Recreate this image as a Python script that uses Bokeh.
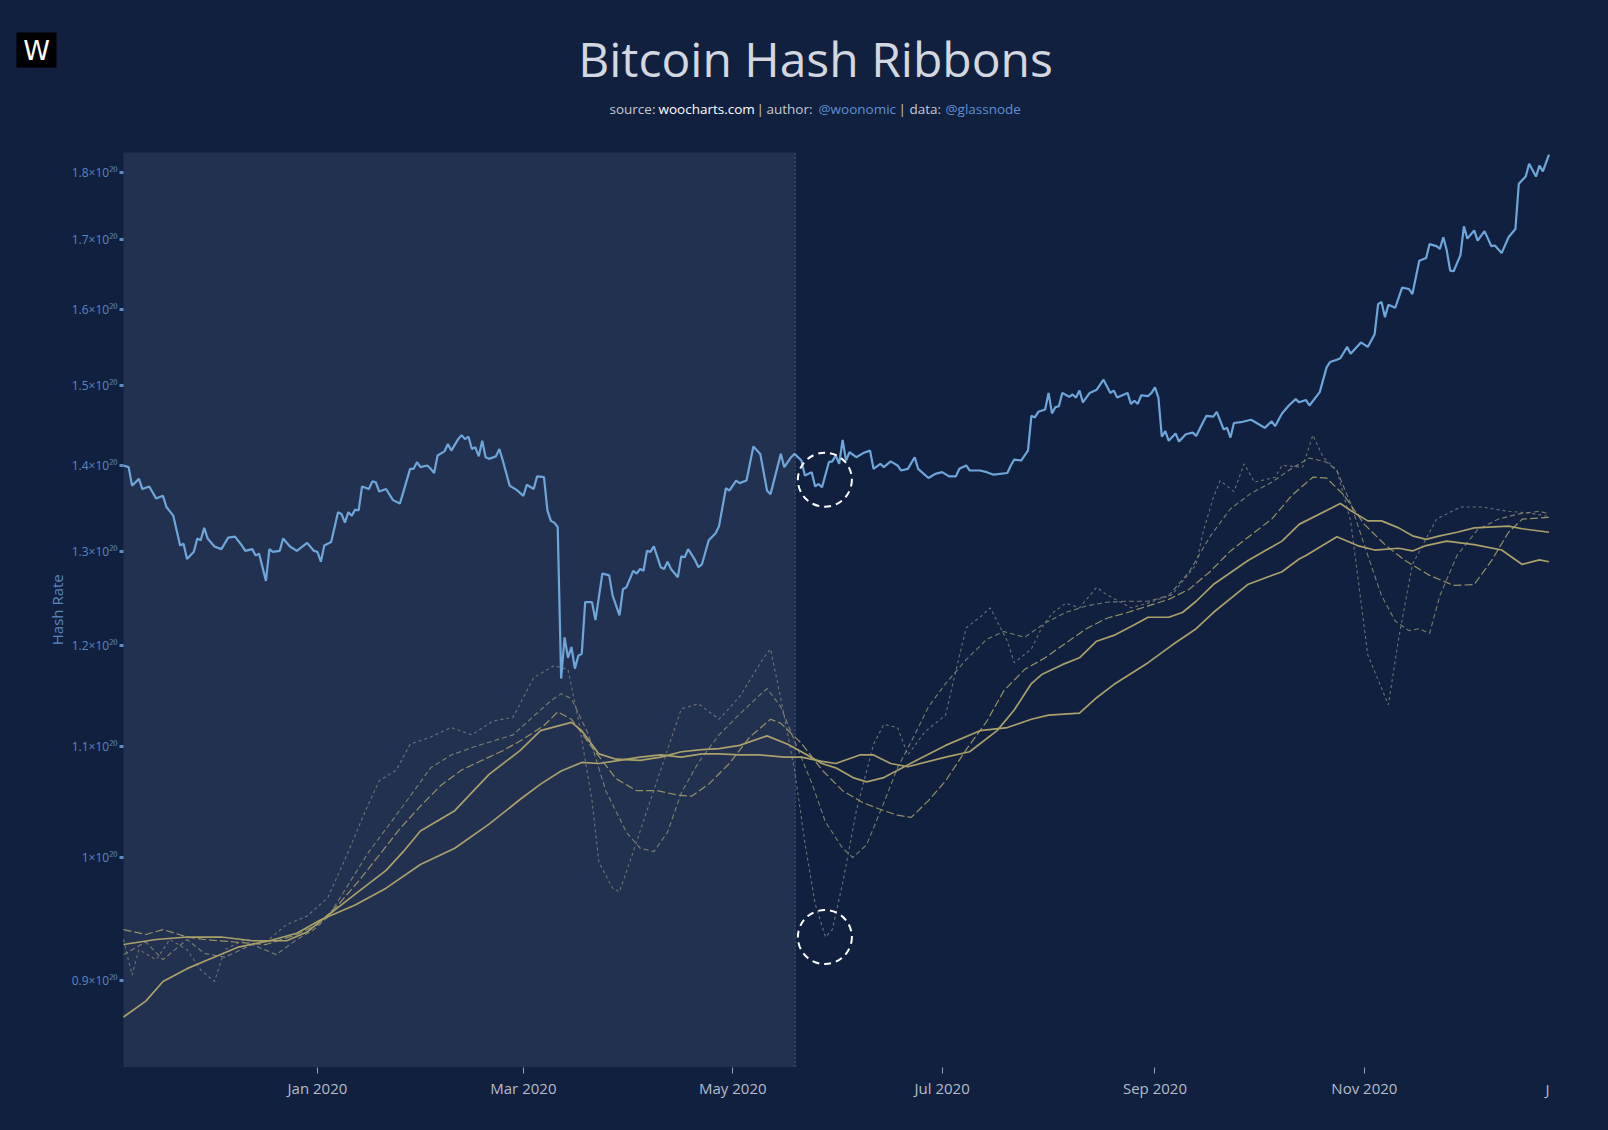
import math
import pandas as pd
from bokeh.plotting import figure
from bokeh.models import (Range1d, FixedTicker, CustomJSTickFormatter,
                          BoxAnnotation, Label, ColumnDataSource)
from bokeh.embed import file_html
from bokeh.resources import INLINE

# ---------------- data (hash rate, units of 1e20) ----------------
hash_dates = [
    "2019-11-05 12:00", "2019-11-07", "2019-11-08", "2019-11-10", "2019-11-11", "2019-11-13", "2019-11-15", "2019-11-17",
    "2019-11-18", "2019-11-20", "2019-11-22", "2019-11-23", "2019-11-24", "2019-11-26", "2019-11-27", "2019-11-28",
    "2019-11-29", "2019-11-30", "2019-12-02", "2019-12-04", "2019-12-06", "2019-12-08", "2019-12-10", "2019-12-11",
    "2019-12-13", "2019-12-14", "2019-12-15", "2019-12-17", "2019-12-18", "2019-12-19", "2019-12-21", "2019-12-22",
    "2019-12-24", "2019-12-26", "2019-12-29", "2019-12-31", "2020-01-01", "2020-01-02", "2020-01-03", "2020-01-05",
    "2020-01-07", "2020-01-08", "2020-01-09", "2020-01-10", "2020-01-11", "2020-01-12", "2020-01-13", "2020-01-14",
    "2020-01-16", "2020-01-17", "2020-01-18", "2020-01-19", "2020-01-21", "2020-01-23", "2020-01-25", "2020-01-26",
    "2020-01-28", "2020-01-29", "2020-01-30", "2020-01-31", "2020-02-02", "2020-02-03", "2020-02-04", "2020-02-05",
    "2020-02-07", "2020-02-08", "2020-02-09", "2020-02-11", "2020-02-12", "2020-02-13", "2020-02-14", "2020-02-15",
    "2020-02-16", "2020-02-17", "2020-02-18", "2020-02-19", "2020-02-20", "2020-02-22", "2020-02-23", "2020-02-24",
    "2020-02-26", "2020-02-28", "2020-03-01", "2020-03-02", "2020-03-04", "2020-03-05", "2020-03-07", "2020-03-08",
    "2020-03-09", "2020-03-10", "2020-03-11", "2020-03-12", "2020-03-13", "2020-03-14", "2020-03-15", "2020-03-16",
    "2020-03-17", "2020-03-18", "2020-03-19", "2020-03-21", "2020-03-22", "2020-03-24", "2020-03-26", "2020-03-27",
    "2020-03-29", "2020-03-30", "2020-03-31", "2020-04-02", "2020-04-03", "2020-04-04", "2020-04-05", "2020-04-06",
    "2020-04-07", "2020-04-08", "2020-04-10", "2020-04-11", "2020-04-12", "2020-04-13", "2020-04-15", "2020-04-16",
    "2020-04-17", "2020-04-18", "2020-04-20", "2020-04-21", "2020-04-22", "2020-04-24", "2020-04-26", "2020-04-27",
    "2020-04-29", "2020-04-30", "2020-05-02", "2020-05-03", "2020-05-05", "2020-05-07", "2020-05-09", "2020-05-11",
    "2020-05-12", "2020-05-14", "2020-05-15", "2020-05-16", "2020-05-18", "2020-05-19", "2020-05-21", "2020-05-22",
    "2020-05-24", "2020-05-25", "2020-05-26", "2020-05-27", "2020-05-29", "2020-05-30", "2020-05-31", "2020-06-01",
    "2020-06-02", "2020-06-03", "2020-06-04", "2020-06-06", "2020-06-08", "2020-06-10", "2020-06-11", "2020-06-13",
    "2020-06-14", "2020-06-16", "2020-06-18", "2020-06-19", "2020-06-21", "2020-06-23", "2020-06-24", "2020-06-27",
    "2020-06-29", "2020-07-01", "2020-07-03", "2020-07-05", "2020-07-06", "2020-07-08", "2020-07-09", "2020-07-12",
    "2020-07-14", "2020-07-16", "2020-07-20", "2020-07-21", "2020-07-22", "2020-07-24", "2020-07-26", "2020-07-27",
    "2020-07-28", "2020-07-29", "2020-07-31", "2020-08-01", "2020-08-02", "2020-08-03", "2020-08-04", "2020-08-05",
    "2020-08-07", "2020-08-08", "2020-08-09", "2020-08-10", "2020-08-11", "2020-08-13", "2020-08-15", "2020-08-17",
    "2020-08-19", "2020-08-20", "2020-08-21", "2020-08-24", "2020-08-25", "2020-08-26", "2020-08-27", "2020-08-28",
    "2020-08-30", "2020-08-31", "2020-09-01", "2020-09-02", "2020-09-03", "2020-09-04", "2020-09-05", "2020-09-07",
    "2020-09-08", "2020-09-10", "2020-09-12", "2020-09-13", "2020-09-15", "2020-09-16", "2020-09-18", "2020-09-19",
    "2020-09-20", "2020-09-21", "2020-09-22", "2020-09-23", "2020-09-24", "2020-09-26", "2020-09-29", "2020-10-01",
    "2020-10-03", "2020-10-05", "2020-10-06", "2020-10-08", "2020-10-10", "2020-10-12", "2020-10-13", "2020-10-15",
    "2020-10-16", "2020-10-19", "2020-10-21", "2020-10-22", "2020-10-24", "2020-10-25", "2020-10-27", "2020-10-28",
    "2020-10-31", "2020-11-02", "2020-11-04", "2020-11-05", "2020-11-06", "2020-11-07", "2020-11-08", "2020-11-10",
    "2020-11-12", "2020-11-14", "2020-11-15", "2020-11-17", "2020-11-19", "2020-11-20", "2020-11-22", "2020-11-23",
    "2020-11-24", "2020-11-25", "2020-11-26", "2020-11-27", "2020-11-29", "2020-11-30", "2020-12-01", "2020-12-03",
    "2020-12-04", "2020-12-06", "2020-12-07", "2020-12-08", "2020-12-09", "2020-12-11", "2020-12-13", "2020-12-15",
    "2020-12-16", "2020-12-18", "2020-12-19", "2020-12-21", "2020-12-22", "2020-12-23", "2020-12-24 19:00",
]
hash_values = [
    1.400, 1.398, 1.376, 1.384, 1.372, 1.375, 1.361, 1.364,
    1.351, 1.341, 1.307, 1.309, 1.292, 1.300, 1.315, 1.313,
    1.327, 1.315, 1.306, 1.303, 1.316, 1.317, 1.307, 1.301,
    1.303, 1.296, 1.298, 1.268, 1.303, 1.300, 1.301, 1.315,
    1.306, 1.301, 1.310, 1.301, 1.300, 1.289, 1.307, 1.311,
    1.345, 1.343, 1.333, 1.345, 1.341, 1.348, 1.347, 1.375,
    1.372, 1.381, 1.380, 1.369, 1.372, 1.359, 1.355, 1.368,
    1.396, 1.396, 1.404, 1.398, 1.400, 1.396, 1.391, 1.412,
    1.417, 1.426, 1.418, 1.432, 1.437, 1.432, 1.435, 1.420,
    1.422, 1.411, 1.430, 1.410, 1.408, 1.411, 1.420, 1.406,
    1.376, 1.371, 1.364, 1.377, 1.372, 1.387, 1.386, 1.347,
    1.335, 1.333, 1.328, 1.166, 1.208, 1.187, 1.198, 1.176,
    1.189, 1.191, 1.245, 1.245, 1.226, 1.276, 1.274, 1.252,
    1.231, 1.259, 1.261, 1.279, 1.276, 1.281, 1.279, 1.301,
    1.300, 1.306, 1.283, 1.281, 1.289, 1.281, 1.272, 1.295,
    1.294, 1.303, 1.291, 1.283, 1.286, 1.313, 1.321, 1.329,
    1.373, 1.370, 1.382, 1.379, 1.382, 1.423, 1.414, 1.370,
    1.366, 1.398, 1.414, 1.398, 1.410, 1.414, 1.406, 1.388,
    1.392, 1.375, 1.378, 1.374, 1.404, 1.405, 1.412, 1.402,
    1.431, 1.406, 1.416, 1.410, 1.415, 1.418, 1.396, 1.402,
    1.398, 1.405, 1.400, 1.394, 1.396, 1.410, 1.396, 1.385,
    1.390, 1.392, 1.387, 1.387, 1.396, 1.400, 1.394, 1.394,
    1.392, 1.389, 1.391, 1.400, 1.407, 1.406, 1.418, 1.461,
    1.459, 1.466, 1.469, 1.490, 1.464, 1.472, 1.473, 1.490,
    1.485, 1.488, 1.484, 1.493, 1.478, 1.490, 1.494, 1.507,
    1.490, 1.493, 1.484, 1.490, 1.476, 1.480, 1.476, 1.487,
    1.486, 1.490, 1.497, 1.484, 1.435, 1.442, 1.430, 1.439,
    1.429, 1.438, 1.440, 1.436, 1.453, 1.461, 1.460, 1.466,
    1.455, 1.444, 1.446, 1.434, 1.452, 1.453, 1.456, 1.451,
    1.446, 1.454, 1.448, 1.464, 1.474, 1.482, 1.478, 1.481,
    1.474, 1.491, 1.523, 1.530, 1.533, 1.535, 1.550, 1.541,
    1.556, 1.550, 1.567, 1.608, 1.611, 1.590, 1.607, 1.603,
    1.631, 1.629, 1.622, 1.669, 1.673, 1.693, 1.690, 1.686,
    1.703, 1.684, 1.655, 1.654, 1.677, 1.719, 1.701, 1.713,
    1.698, 1.712, 1.701, 1.690, 1.691, 1.680, 1.703, 1.715,
    1.783, 1.794, 1.814, 1.794, 1.811, 1.802, 1.828,
]

# ---------------- ribbon moving averages (read against the left scale) ----------------
ma_a_dates = [
    "2019-11-05 12:00", "2019-11-12", "2019-11-17", "2019-11-24", "2019-12-01", "2019-12-09", "2019-12-18", "2019-12-26",
    "2020-01-02", "2020-01-12", "2020-01-21", "2020-01-31", "2020-02-10", "2020-02-20", "2020-02-29", "2020-03-06",
    "2020-03-12", "2020-03-18", "2020-03-23", "2020-03-29", "2020-04-04", "2020-04-10", "2020-04-16", "2020-04-22",
    "2020-04-27", "2020-05-03", "2020-05-09", "2020-05-16", "2020-05-21", "2020-05-27", "2020-05-31", "2020-06-07",
    "2020-06-11", "2020-06-16", "2020-06-21", "2020-07-02", "2020-07-09", "2020-07-17", "2020-07-22", "2020-07-27",
    "2020-07-30", "2020-08-05", "2020-08-10", "2020-08-15", "2020-08-20", "2020-08-26", "2020-08-30", "2020-09-05",
    "2020-09-09", "2020-09-13", "2020-09-18", "2020-09-28", "2020-10-08", "2020-10-13", "2020-10-15", "2020-10-25",
    "2020-10-28", "2020-11-02", "2020-11-06", "2020-11-11", "2020-11-15", "2020-11-19", "2020-11-23", "2020-11-28",
    "2020-12-03", "2020-12-13", "2020-12-17", "2020-12-24 19:00",
]
ma_a_values = [
    0.872, 0.884, 0.899, 0.909, 0.917, 0.926, 0.931, 0.937,
    0.948, 0.960, 0.974, 0.994, 1.008, 1.029, 1.051, 1.065,
    1.077, 1.085, 1.084, 1.087, 1.090, 1.092, 1.090, 1.093,
    1.093, 1.092, 1.092, 1.090, 1.090, 1.086, 1.084, 1.092,
    1.092, 1.084, 1.081, 1.090, 1.095, 1.115, 1.135, 1.161,
    1.170, 1.180, 1.187, 1.204, 1.210, 1.221, 1.229, 1.229,
    1.234, 1.246, 1.264, 1.290, 1.312, 1.331, 1.335, 1.355,
    1.347, 1.335, 1.335, 1.327, 1.318, 1.314, 1.318, 1.322,
    1.327, 1.329, 1.326, 1.322,
]

ma_b_dates = [
    "2019-11-05 12:00", "2019-11-15", "2019-11-24", "2019-12-04", "2019-12-13", "2019-12-23", "2019-12-29", "2020-01-02",
    "2020-01-12", "2020-01-21", "2020-01-26", "2020-01-31", "2020-02-10", "2020-02-20", "2020-02-29", "2020-03-06",
    "2020-03-15", "2020-03-18", "2020-03-23", "2020-03-28", "2020-04-04", "2020-04-10", "2020-04-16", "2020-04-22",
    "2020-04-27", "2020-05-03", "2020-05-11", "2020-05-17", "2020-05-21", "2020-05-27", "2020-05-31", "2020-06-05",
    "2020-06-09", "2020-06-14", "2020-06-23", "2020-07-02", "2020-07-12", "2020-07-20", "2020-07-27", "2020-08-01",
    "2020-08-10", "2020-08-15", "2020-08-20", "2020-08-30", "2020-09-06", "2020-09-13", "2020-09-18", "2020-09-28",
    "2020-10-08", "2020-10-13", "2020-10-15", "2020-10-24", "2020-10-30", "2020-11-04", "2020-11-11", "2020-11-15",
    "2020-11-19", "2020-11-25", "2020-12-03", "2020-12-11", "2020-12-17", "2020-12-22", "2020-12-24 19:00",
]
ma_b_values = [
    0.928, 0.932, 0.934, 0.934, 0.931, 0.931, 0.938, 0.947,
    0.969, 0.989, 1.005, 1.023, 1.041, 1.074, 1.096, 1.115,
    1.123, 1.115, 1.093, 1.088, 1.087, 1.090, 1.095, 1.097,
    1.098, 1.101, 1.110, 1.102, 1.095, 1.084, 1.080, 1.071,
    1.067, 1.071, 1.086, 1.101, 1.115, 1.118, 1.126, 1.130,
    1.132, 1.147, 1.160, 1.182, 1.200, 1.217, 1.234, 1.264,
    1.278, 1.292, 1.296, 1.317, 1.307, 1.302, 1.304, 1.301,
    1.307, 1.312, 1.308, 1.302, 1.286, 1.291, 1.289,
]

ma_c_dates = [
    "2019-11-05 12:00", "2019-11-12", "2019-11-17", "2019-11-24", "2019-11-29", "2019-12-08", "2019-12-17", "2019-12-26",
    "2020-01-01", "2020-01-07", "2020-01-13", "2020-01-19", "2020-01-25", "2020-01-31", "2020-02-06", "2020-02-12",
    "2020-02-18", "2020-02-24", "2020-03-01", "2020-03-07", "2020-03-11", "2020-03-15", "2020-03-21", "2020-03-28",
    "2020-04-03", "2020-04-09", "2020-04-15", "2020-04-19", "2020-04-24", "2020-04-30", "2020-05-06", "2020-05-12",
    "2020-05-15", "2020-05-21", "2020-05-27", "2020-06-02", "2020-06-08", "2020-06-14", "2020-06-18", "2020-06-22",
    "2020-06-27", "2020-07-02", "2020-07-08", "2020-07-14", "2020-07-19", "2020-07-25", "2020-07-31", "2020-08-06",
    "2020-08-12", "2020-08-18", "2020-08-24", "2020-08-30", "2020-09-05", "2020-09-11", "2020-09-17", "2020-09-23",
    "2020-09-29", "2020-10-05", "2020-10-11", "2020-10-17", "2020-10-21", "2020-10-26", "2020-11-01", "2020-11-07",
    "2020-11-13", "2020-11-20", "2020-11-27", "2020-12-03", "2020-12-08", "2020-12-13", "2020-12-17", "2020-12-24 19:00",
]
ma_c_values = [
    0.940, 0.936, 0.940, 0.934, 0.932, 0.930, 0.928, 0.936,
    0.944, 0.960, 0.980, 1.002, 1.025, 1.045, 1.064, 1.078,
    1.087, 1.096, 1.107, 1.120, 1.133, 1.126, 1.099, 1.070,
    1.059, 1.059, 1.055, 1.054, 1.065, 1.084, 1.109, 1.126,
    1.122, 1.103, 1.078, 1.059, 1.048, 1.041, 1.037, 1.035,
    1.050, 1.068, 1.097, 1.124, 1.154, 1.175, 1.187, 1.202,
    1.217, 1.228, 1.234, 1.241, 1.248, 1.259, 1.278, 1.301,
    1.319, 1.337, 1.365, 1.386, 1.385, 1.365, 1.331, 1.308,
    1.290, 1.274, 1.263, 1.264, 1.290, 1.322, 1.337, 1.339,
]

ma_d_dates = [
    "2019-11-05 12:00", "2019-11-12", "2019-11-17", "2019-11-24", "2019-11-29", "2019-12-05", "2019-12-13", "2019-12-20",
    "2019-12-26", "2019-12-31", "2020-01-04", "2020-01-10", "2020-01-16", "2020-01-22", "2020-01-28", "2020-02-03",
    "2020-02-09", "2020-02-15", "2020-02-21", "2020-02-27", "2020-03-04", "2020-03-09", "2020-03-12", "2020-03-15",
    "2020-03-20", "2020-03-25", "2020-03-31", "2020-04-04", "2020-04-08", "2020-04-12", "2020-04-16", "2020-04-21",
    "2020-04-27", "2020-05-03", "2020-05-09", "2020-05-11", "2020-05-15", "2020-05-19", "2020-05-24", "2020-05-28",
    "2020-06-02", "2020-06-05", "2020-06-09", "2020-06-14", "2020-06-18", "2020-06-23", "2020-06-27", "2020-07-02",
    "2020-07-08", "2020-07-14", "2020-07-19", "2020-07-25", "2020-07-31", "2020-08-06", "2020-08-12", "2020-08-18",
    "2020-08-24", "2020-08-30", "2020-09-05", "2020-09-11", "2020-09-17", "2020-09-23", "2020-09-29", "2020-10-05",
    "2020-10-11", "2020-10-16", "2020-10-21", "2020-10-24", "2020-10-28", "2020-11-02", "2020-11-06", "2020-11-10",
    "2020-11-14", "2020-11-17", "2020-11-20", "2020-11-23", "2020-11-28", "2020-12-04", "2020-12-10", "2020-12-16",
    "2020-12-22", "2020-12-24 19:00",
]
ma_d_values = [
    0.920, 0.930, 0.916, 0.932, 0.921, 0.918, 0.928, 0.920,
    0.932, 0.940, 0.950, 0.977, 1.005, 1.029, 1.054, 1.080,
    1.092, 1.099, 1.105, 1.111, 1.129, 1.144, 1.151, 1.146,
    1.111, 1.059, 1.022, 1.008, 1.005, 1.022, 1.057, 1.085,
    1.111, 1.131, 1.150, 1.156, 1.138, 1.105, 1.066, 1.031,
    1.008, 1.000, 1.011, 1.048, 1.080, 1.111, 1.138, 1.161,
    1.185, 1.206, 1.214, 1.208, 1.223, 1.234, 1.241, 1.245,
    1.246, 1.246, 1.252, 1.278, 1.317, 1.349, 1.367, 1.380,
    1.397, 1.409, 1.404, 1.394, 1.355, 1.296, 1.252, 1.225,
    1.215, 1.217, 1.212, 1.252, 1.296, 1.325, 1.337, 1.343,
    1.346, 1.343,
]

ma_e_dates = [
    "2019-11-05 12:00", "2019-11-08", "2019-11-10", "2019-11-15", "2019-11-19", "2019-11-24", "2019-11-28", "2019-12-02",
    "2019-12-05", "2019-12-11", "2019-12-17", "2019-12-23", "2019-12-29", "2020-01-04", "2020-01-10", "2020-01-15",
    "2020-01-19", "2020-01-24", "2020-01-28", "2020-02-03", "2020-02-09", "2020-02-15", "2020-02-21", "2020-02-27",
    "2020-03-04", "2020-03-10", "2020-03-14", "2020-03-17", "2020-03-21", "2020-03-23", "2020-03-27", "2020-03-29",
    "2020-04-01", "2020-04-06", "2020-04-12", "2020-04-16", "2020-04-21", "2020-04-27", "2020-05-03", "2020-05-10",
    "2020-05-12", "2020-05-15", "2020-05-19", "2020-05-22", "2020-05-25", "2020-05-28", "2020-05-30", "2020-06-02",
    "2020-06-06", "2020-06-11", "2020-06-14", "2020-06-18", "2020-06-21", "2020-06-26", "2020-07-02", "2020-07-05",
    "2020-07-08", "2020-07-12", "2020-07-15", "2020-07-20", "2020-07-22", "2020-07-27", "2020-07-30", "2020-08-02",
    "2020-08-06", "2020-08-10", "2020-08-15", "2020-08-18", "2020-08-25", "2020-08-30", "2020-09-06", "2020-09-13",
    "2020-09-15", "2020-09-18", "2020-09-20", "2020-09-24", "2020-09-27", "2020-09-30", "2020-10-06", "2020-10-08",
    "2020-10-14", "2020-10-17", "2020-10-20", "2020-10-24", "2020-10-28", "2020-11-02", "2020-11-08", "2020-11-11",
    "2020-11-15", "2020-11-22", "2020-11-29", "2020-12-05", "2020-12-13", "2020-12-19", "2020-12-24 19:00",
]
ma_e_values = [
    0.932, 0.904, 0.924, 0.916, 0.932, 0.924, 0.908, 0.899,
    0.924, 0.932, 0.930, 0.944, 0.951, 0.966, 1.005, 1.041,
    1.068, 1.078, 1.102, 1.109, 1.118, 1.111, 1.124, 1.128,
    1.167, 1.179, 1.175, 1.126, 1.050, 0.996, 0.974, 0.971,
    0.996, 1.041, 1.097, 1.136, 1.141, 1.126, 1.148, 1.187,
    1.196, 1.146, 1.078, 1.013, 0.961, 0.934, 0.940, 0.978,
    1.041, 1.102, 1.121, 1.118, 1.092, 1.114, 1.130, 1.174,
    1.218, 1.229, 1.239, 1.204, 1.182, 1.196, 1.218, 1.233,
    1.244, 1.239, 1.261, 1.253, 1.239, 1.244, 1.253, 1.286,
    1.322, 1.362, 1.382, 1.369, 1.402, 1.380, 1.386, 1.400,
    1.398, 1.437, 1.410, 1.394, 1.335, 1.190, 1.140, 1.207,
    1.286, 1.337, 1.351, 1.351, 1.346, 1.344, 1.340,
]

x_tick_dates = ["2020-01-01", "2020-03-01", "2020-05-01", "2020-07-01", "2020-09-01", "2020-11-01"]
y_tick_values = [0.9, 1.0, 1.1, 1.2, 1.3, 1.4, 1.5, 1.6, 1.7, 1.8]
x_start, x_end = "2019-11-05 12:00", "2020-12-24 19:00"     # plotted date span
y_min, y_max = 0.8354, 1.8315                               # plotted value span
shade_end = "2020-05-19 05:00"
circle_dates = ["2020-05-27 20:00", "2020-05-27 20:00"]
circle_values = [1.383, 0.934]

title_text = "Bitcoin Hash Ribbons"
subtitle_parts = [("source:", "#c5cad4"), ("woocharts.com", "#ffffff"), ("|", "#c5cad4"),
                  ("author:", "#c5cad4"), ("@woonomic", "#5f90d2"), ("|", "#c5cad4"),
                  ("data:", "#c5cad4"), ("@glassnode", "#5f90d2")]

# ---------------- layout geometry (canvas pixels) ----------------
W, H = 1608, 1130
PL, PR, PT, PB = 123, 1548.5, 152, 1066.5      # plot area inside the canvas
BG = "#11203f"
SHADE = "#233150"
FONT = "Open Sans"
AXIS_BLUE = "#5b86bf"

def to_dt(lst):
    return pd.to_datetime(lst, format="ISO8601")

# the frame covers the whole canvas; ranges are extended so the plot area sits at PL..PR / PT..PB
t0, t1 = pd.Timestamp(x_start).value / 1e6, pd.Timestamp(x_end).value / 1e6
ms_per_px = (t1 - t0) / (PR - PL)
xr = Range1d(t0 - PL * ms_per_px, t1 + (W - PR) * ms_per_px)
l0, l1 = math.log(y_min), math.log(y_max)
ln_per_px = (l1 - l0) / (PB - PT)
yr = Range1d(math.exp(l0 - (H - PB) * ln_per_px), math.exp(l1 + PT * ln_per_px))

p = figure(width=W, height=H, x_axis_type="datetime", y_axis_type="log",
           x_range=xr, y_range=yr, output_backend="svg", toolbar_location=None,
           min_border=0)
p.background_fill_color = BG
p.border_fill_color = BG
p.outline_line_color = None
p.grid.visible = False
p.styles = {"background-color": BG}

p.add_layout(BoxAnnotation(left=pd.Timestamp(x_start), right=pd.Timestamp(shade_end),
                           bottom=y_min, top=y_max, fill_color=SHADE, fill_alpha=1.0,
                           line_color=None, level="underlay"))
p.segment(x0=[pd.Timestamp(shade_end)], y0=[y_min], x1=[pd.Timestamp(shade_end)], y1=[y_max],
          line_color="#45547a", line_dash="2 2", line_width=1)

def src(d, v):
    return ColumnDataSource(dict(x=to_dt(d), y=v))

p.line("x", "y", source=src(ma_e_dates, ma_e_values), line_color="#7c7f7c", line_width=1.1,
       line_dash="3 3", line_alpha=0.85)
p.line("x", "y", source=src(ma_d_dates, ma_d_values), line_color="#8c8c78", line_width=1.1,
       line_dash="5 3", line_alpha=0.85)
p.line("x", "y", source=src(ma_c_dates, ma_c_values), line_color="#a29c68", line_width=1.2,
       line_dash="8 3", line_alpha=0.9)
p.line("x", "y", source=src(ma_b_dates, ma_b_values), line_color="#a9a169", line_width=1.7)
p.line("x", "y", source=src(ma_a_dates, ma_a_values), line_color="#a9a169", line_width=1.7)
p.line("x", "y", source=src(hash_dates, hash_values), line_color="#6ea6d9", line_width=2.2)

p.scatter(x=to_dt(circle_dates), y=circle_values, marker="circle", size=54,
          fill_alpha=0, line_color="white", line_width=2, line_dash="7 5")

# axes pinned to the plot-area edges
p.xaxis.fixed_location = y_min
p.yaxis.fixed_location = t0
p.xaxis.ticker = FixedTicker(ticks=[pd.Timestamp(d).value // 10**6 for d in x_tick_dates])
p.xaxis.formatter = CustomJSTickFormatter(code="""
    const names = ["Jan","Feb","Mar","Apr","May","Jun","Jul","Aug","Sep","Oct","Nov","Dec"];
    const d = new Date(tick);
    return names[d.getUTCMonth()] + " " + d.getUTCFullYear();
""")
p.xaxis.axis_line_color = None
p.xaxis.major_tick_line_color = "#9aa3b5"
p.xaxis.major_tick_out = 6
p.xaxis.major_tick_in = 0
p.xaxis.minor_tick_line_color = None
p.xaxis.major_label_text_color = "#b4bccb"
p.xaxis.major_label_text_font = FONT
p.xaxis.major_label_text_font_size = "15px"
p.xaxis.major_label_standoff = 5

p.yaxis.ticker = FixedTicker(ticks=y_tick_values)
p.yaxis.formatter = CustomJSTickFormatter(code="return (Math.round(tick*10)/10).toString() + '\u00d710\u00b2\u2070';")
p.yaxis.axis_line_color = None
p.yaxis.major_tick_line_color = "#5b8ac4"
p.yaxis.major_tick_line_width = 3
p.yaxis.major_tick_out = 4
p.yaxis.major_tick_in = 0
p.yaxis.minor_tick_line_color = None
p.yaxis.major_label_text_color = AXIS_BLUE
p.yaxis.major_label_text_font = FONT
p.yaxis.major_label_text_font_size = "12px"
p.yaxis.major_label_standoff = 2

# texts (screen units: x from the left, y from the bottom of the canvas)
def lab(text, cx, cy, size, color, align="left", font=FONT, angle=0.0):
    p.add_layout(Label(x=cx, y=H - cy, x_units="screen", y_units="screen", text=text,
                       text_font=font, text_font_size=size, text_color=color, angle=angle,
                       text_align=align, text_baseline="middle"))

# y-axis title, centred on the plot area
lab("Hash Rate", 56, (PT + PB) / 2, "15px", AXIS_BLUE, align="center", angle=math.pi / 2)

p.add_layout(BoxAnnotation(left=16, right=56, top=H - 32, bottom=H - 67, left_units="screen",
                           right_units="screen", top_units="screen", bottom_units="screen",
                           fill_color="black", fill_alpha=1, line_color=None))
lab("W", 36, 50, "27px", "white", align="center", font="DejaVu Sans")
lab(title_text, 815, 58, "48px", "#d3d7df", align="center")
sub_x = [609, 658, 756, 766, 818, 898, 909, 945]
for (txt, col), sx in zip(subtitle_parts, sub_x):
    lab(txt, sx, 108, "13.5px", col)
lab("J", 1547, 1088, "15px", "#b4bccb", align="center")

open("out.html", "w").write(file_html(p, INLINE))
